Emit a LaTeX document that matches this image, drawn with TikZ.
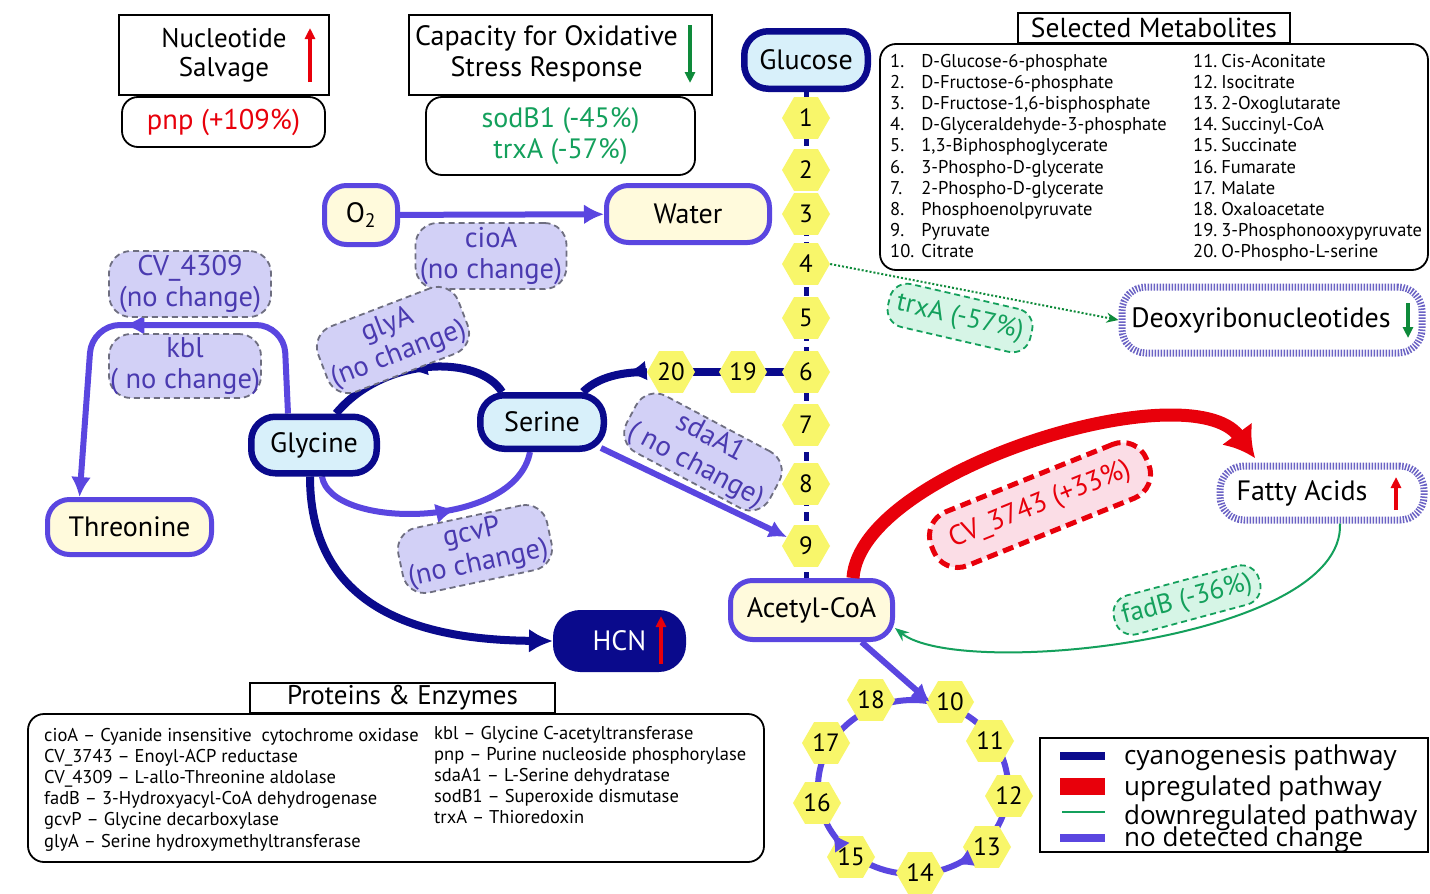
\documentclass[tikz,border=0pt]{standalone}
\usepackage{fontspec}
\setmainfont{PT Sans}
\newfontfamily\legendfont{Open Sans}
\usetikzlibrary{shapes.geometric,arrows.meta,decorations.markings}
\definecolor{navy}{HTML}{0A0A8C}
\definecolor{ncblue}{HTML}{5A46E0}
\definecolor{ncdark}{HTML}{4A3AB0}
\definecolor{lightblue}{HTML}{D8F0FA}
\definecolor{lavender}{HTML}{D2D0F6}
\definecolor{lightyel}{HTML}{FFFADC}
\definecolor{hexyel}{HTML}{F8F66A}
\definecolor{upred}{HTML}{E8000B}
\definecolor{dngreen}{HTML}{14A05C}
\definecolor{arrgreen}{HTML}{0E8A3A}
\definecolor{lightgreen}{HTML}{D6F5E6}
\definecolor{pinkfill}{HTML}{FBDDE6}
\definecolor{enzgray}{HTML}{6E6E80}
\definecolor{hatchc}{HTML}{6A62C4}
\pgfdeclarelayer{paper}
\pgfdeclarelayer{back}
\pgfsetlayers{paper,back,main}
\begin{document}
\begin{tikzpicture}[x=1pt,y=-1pt,
  plainbox/.style={draw=black, line width=1.6, inner sep=0},
  roundbox/.style={draw=black, line width=1.8, rounded corners=16, inner sep=0},
  navybox/.style={draw=navy, line width=6.5, fill=lightblue, rounded corners=24, inner sep=0, font=\fontsize{28}{30}\selectfont},
  ncbox/.style={draw=ncblue, line width=5, fill=lightyel, rounded corners=22, inner sep=0, font=\fontsize{28}{30}\selectfont},
  enz/.style={draw=enzgray, dash pattern=on 6 off 4, line width=1.8, fill=lavender, rounded corners=22, inner sep=0, text=ncdark, align=center, font=\fontsize{28.5}{31}\selectfont},
  downenz/.style={draw=dngreen, dash pattern=on 6 off 4, line width=1.8, fill=lightgreen, rounded corners=18, inner sep=0, text=dngreen, font=\fontsize{27}{29}\selectfont},
  hexnode/.style={regular polygon, regular polygon sides=6, fill=hexyel, minimum size=48, inner sep=0, font=\fontsize{25}{25}\selectfont},
  hatchbox/.style={draw=hatchc, line width=7, dash pattern=on 1.5 off 1.5, rounded corners=24, fill=white, inner sep=0, font=\fontsize{28}{30}\selectfont},
  navyline/.style={draw=navy, line width=8},
  ncline/.style={draw=ncblue, line width=6},
  midarrow/.style={postaction={decorate,decoration={markings,mark=at position #1 with {\arrow{Latex[length=20,width=20]}}}}},
  uparr/.style={draw=upred, line width=3.2, -{Triangle[length=11,width=10]}},
  dnarr/.style={draw=arrgreen, line width=3.2, -{Triangle[length=11,width=10]}},
  listtext/.style={anchor=north west, inner sep=0, font=\fontsize{18.5}{21.2}\selectfont},
  legtext/.style={anchor=base west, inner sep=0, font=\legendfont\fontsize{26}{28}\selectfont},
]
\useasboundingbox (0,0) rectangle (1430,894);
\begin{pgfonlayer}{paper}
\fill[white] (0,0) rectangle (1430,894);
\end{pgfonlayer}

% ---------- top info boxes ----------
\node[plainbox, minimum width=210, minimum height=80, align=center, font=\fontsize{27}{29}\selectfont] (ns) at (224,55) {Nucleotide\\Salvage};
\draw[uparr] (310,82) -- (310,28);
\node[roundbox, minimum width=203, minimum height=50, text=upred, font=\fontsize{28.5}{30}\selectfont] (pnp) at (223.5,122) {pnp (+109\%)};

\node[plainbox, minimum width=303, minimum height=80, font=\fontsize{28}{31}\selectfont] (cap) at (560.5,55) {\begin{tabular}{@{}c@{}}Capacity for Oxidative\\Stress Response\end{tabular}\rule{28pt}{0pt}};
\draw[dnarr] (690,25) -- (690,83);
\node[roundbox, minimum width=269, minimum height=78, align=center, text=dngreen, font=\fontsize{28}{31}\selectfont] (sod) at (560.5,136) {sodB1 (-45\%)\\trxA (-57\%)};

% ---------- selected metabolites ----------
\node[roundbox, minimum width=548, minimum height=226] (metbox) at (1154,157) {};
\node[plainbox, fill=white, minimum width=272, minimum height=30, font=\fontsize{27.5}{29}\selectfont] (methead) at (1154,28) {Selected Metabolites};
\node[listtext] (metL) at (890,52) {\begin{tabular}{@{}l@{\hspace{7pt}}l@{}}
1. & D-Glucose-6-phosphate\\
2. & D-Fructose-6-phosphate\\
3. & D-Fructose-1,6-bisphosphate\\
4. & D-Glyceraldehyde-3-phosphate\\
5. & 1,3-Biphosphoglycerate\\
6. & 3-Phospho-D-glycerate\\
7. & 2-Phospho-D-glycerate\\
8. & Phosphoenolpyruvate\\
9. & Pyruvate\\
10. & Citrate\end{tabular}};
\node[listtext] (metR) at (1193,52) {\begin{tabular}{@{}l@{\hspace{4pt}}l@{}}
11. & Cis-Aconitate\\
12. & Isocitrate\\
13. & 2-Oxoglutarate\\
14. & Succinyl-CoA\\
15. & Succinate\\
16. & Fumarate\\
17. & Malate\\
18. & Oxaloacetate\\
19. & 3-Phosphonooxypyruvate\\
20. & O-Phospho-L-serine\end{tabular}};

% ---------- main metabolite nodes ----------
\node[navybox, minimum width=123.5, minimum height=57.5] (glu) at (806,60) {Glucose};
\node[ncbox, minimum width=73, minimum height=59] (o2) at (361,215) {O\textsubscript{2}};
\node[ncbox, minimum width=163, minimum height=57] (water) at (688,214) {Water};
\node[navybox, minimum width=125.5, minimum height=56.5] (gly) at (314,445) {Glycine};
\node[navybox, minimum width=123.5, minimum height=53.5] (ser) at (542,422) {Serine};
\node[ncbox, minimum width=164, minimum height=55] (thr) at (129.5,527) {Threonine};
\node[navybox, fill=navy, text=white, minimum width=126.5, minimum height=55.5] (hcn) at (619.5,641) {HCN};
\draw[uparr] (661,664) -- (661,616);
\node[ncbox, minimum width=162, minimum height=59] (acoa) at (811.5,610) {Acetyl-CoA};
\node[hatchbox, minimum width=300, minimum height=66] (deoxy) at (1272,320) {Deoxyribonucleotides\rule{22pt}{0pt}};
\draw[dnarr] (1408,303) -- (1408,338);
\node[hatchbox, minimum width=204, minimum height=54] (fatty) at (1322,493) {Fatty Acids\rule{40pt}{0pt}};
\draw[uparr] (1396,510) -- (1396,477);

% ---------- enzymes ----------
\node[enz, minimum width=151, minimum height=66] (cioa) at (491,256) {cioA\\(no change)};
\node[enz, minimum width=162, minimum height=66] (cv4309) at (190,284) {CV\_4309\\(no change)};
\node[enz, minimum width=152, minimum height=64] (kbl) at (185,366) {kbl\\( no change)};
\node[enz, rotate=21, minimum width=150, minimum height=70] (glya) at (393,340) {glyA\\(no change)};
\node[enz, rotate=12, minimum width=152, minimum height=66] (gcvp) at (475,549) {gcvP\\(no change)};
\node[enz, rotate=-28, minimum width=162, minimum height=64] (sdaa) at (703,452) {sdaA1\\( no change)};
\node[downenz, rotate=-13, minimum width=146, minimum height=44] (trx) at (960,318) {trxA (-57\%)};
\node[downenz, rotate=15, minimum width=150, minimum height=40] (fadb) at (1187,600) {fadB (-36\%)};
\node[draw=upred, dash pattern=on 11 off 6, line width=5, fill=pinkfill, rounded corners=26, inner sep=0, text=upred, rotate=22, minimum width=232, minimum height=58, font=\fontsize{28}{30}\selectfont] (cv3743) at (1040,505) {CV\_3743 (+33\%)};

% ---------- hexagon metabolites ----------
\foreach \n/\yy in {1/118,2/170,3/214,4/264,5/318,6/372,7/425,8/484,9/546}
  \node[hexnode] (h\n) at (806,\yy) {\n};
\node[hexnode] (h19) at (743,372) {19};
\node[hexnode] (h20) at (671,372) {20};
\foreach \n/\xx/\yy in {10/950/702,11/990/741,12/1009/796,13/987/847,14/920/873,15/851/857,16/817/803,17/826/743,18/871/700}
  \node[hexnode] (h\n) at (\xx,\yy) {\n};

% ---------- connectors behind nodes ----------
\begin{pgfonlayer}{back}
\draw[navy, line width=5, dash pattern=on 9 off 6] (glu.south) -- (glu.south |- acoa.north);
\draw[navyline] (h6.center) -- (h20.center);
\draw[navyline, midarrow=0.3] (h20.west) .. controls (615,372) and (595,380) .. ([xshift=-24]ser.north east);
\draw[navyline, midarrow=0.55] ([xshift=-40]ser.north) .. controls (480,355) and (385,355) .. ([xshift=22]gly.north);
\draw[ncline, midarrow=0.6] ([xshift=8]gly.south) .. controls (330,530) and (515,530) .. ([xshift=-12]ser.south);
\draw[ncline, rounded corners=28, midarrow=0.55, -{Latex[length=20,width=20]}] ([xshift=-26]gly.north) -- (284,325) -- (92,325) -- ([xshift=-50]thr.north);
\draw[ncline] (913,787) ellipse [x radius=95, y radius=87];
\end{pgfonlayer}
\path[line width=6, postaction={decorate,decoration={markings,
  mark=at position 0.175 with {\arrow[ncblue]{Latex[length=18,width=18]}},
  mark=at position 0.415 with {\arrow[ncblue]{Latex[length=18,width=18]}}}}] (913,787) ellipse [x radius=95, y radius=87];

% ---------- connectors on top ----------
\draw[navyline, -{Latex[length=24,width=24]}] ([xshift=-4]gly.south) .. controls (310,615) and (430,640) .. (hcn.west);
\draw[ncline, -{Latex[length=20,width=20]}] (o2) -- (water);
\draw[ncline, -{Latex[length=18,width=18]}] ([xshift=-6,yshift=4]ser.south east) -- (h9.155);
\draw[ncline, -{Latex[length=18,width=18]}] ([xshift=50]acoa.south) -- ([xshift=4]h10.west);
\draw[arrgreen, line width=2, dash pattern=on 2 off 2, -{Stealth[length=12,width=10]}] (h4.east) -- (deoxy.west);
\draw[upred, line width=13, -{Latex[length=30,width=38]}] ([xshift=-42]acoa.north east) .. controls (860,470) and (1190,370) .. (1255,458);
\draw[dngreen, line width=2, -{Stealth[length=14,width=11]}] ([xshift=18]fatty.south) .. controls (1345,640) and (960,680) .. ([yshift=-18]acoa.east);

% ---------- proteins & enzymes ----------
\node[roundbox, minimum width=736, minimum height=148] (protbox) at (396,788) {};
\node[plainbox, fill=white, minimum width=305, minimum height=30, font=\fontsize{27}{29}\selectfont] (prothead) at (402.5,698) {Proteins \& Enzymes};
\node[listtext] (protL) at (44,726) {\begin{tabular}{@{}l@{}}
cioA – Cyanide insensitive\ \ cytochrome oxidase\\
CV\_3743 – Enoyl-ACP reductase\\
CV\_4309 – L-allo-Threonine aldolase\\
fadB – 3-Hydroxyacyl-CoA dehydrogenase\\
gcvP – Glycine decarboxylase\\
glyA – Serine hydroxymethyltransferase\end{tabular}};
\node[listtext] (protR) at (434,724) {\begin{tabular}{@{}l@{}}
kbl – Glycine C-acetyltransferase\\
pnp – Purine nucleoside phosphorylase\\
sdaA1 – L-Serine dehydratase\\
sodB1 – Superoxide dismutase\\
trxA – Thioredoxin\end{tabular}};

% ---------- legend ----------
\node[draw=black, line width=1.6, minimum width=388, minimum height=114, inner sep=0] (legend) at (1234,795) {};
\fill[navy] (1060,752) rectangle (1105,760);
\fill[upred] (1060,778) rectangle (1105,795);
\draw[dngreen, line width=1.6] (1062,812) -- (1105,812);
\fill[ncblue] (1060,834) rectangle (1105,842);
\node[legtext] (lg1) at (1124,764) {cyanogenesis pathway};
\node[legtext] (lg2) at (1124,795) {upregulated pathway};
\node[legtext] (lg3) at (1124,824) {downregulated pathway};
\node[legtext] (lg4) at (1124,846) {no detected change};
\end{tikzpicture}
\end{document}
